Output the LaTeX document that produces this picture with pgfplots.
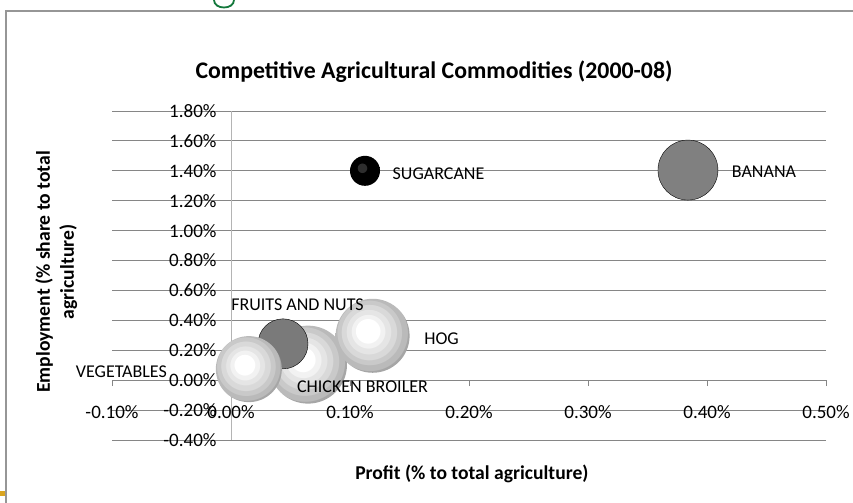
\documentclass[border=0pt]{standalone}
\usepackage{fontspec}
\setmainfont{Carlito}
\usepackage{pgfplots}
\pgfplotsset{compat=1.18}

% banded grey-to-white fill used by the lighter bubbles
\pgfdeclareradialshading{rings}{\pgfpoint{-4bp}{4bp}}{%
  color(0bp)=(white); color(8bp)=(white);
  color(8.01bp)=(black!5); color(11.5bp)=(black!5);
  color(11.51bp)=(black!10); color(15bp)=(black!10);
  color(15.01bp)=(black!15); color(18.5bp)=(black!15);
  color(18.51bp)=(black!21); color(22bp)=(black!21);
  color(22.01bp)=(black!27); color(25.5bp)=(black!27);
  color(25.51bp)=(black!35); color(50bp)=(black!35)}
% black bubble with a faint highlight
\pgfdeclareradialshading{darkball}{\pgfpoint{-6bp}{6bp}}{%
  color(0bp)=(black!82); color(8bp)=(black!82);
  color(8.01bp)=(black); color(50bp)=(black)}

\pgfdeclareplotmark{ringbubble}{%
  \pgfpathcircle{\pgfpointorigin}{\pgfplotmarksize}%
  \pgfshadepath{rings}{0}\pgfusepath{discard}}
\pgfdeclareplotmark{darkbubble}{%
  \pgfpathcircle{\pgfpointorigin}{\pgfplotmarksize}%
  \pgfshadepath{darkball}{0}\pgfusepath{discard}}

\definecolor{gridgray}{RGB}{134,134,134}
\definecolor{axisgray}{RGB}{180,180,180}
\definecolor{framegray}{RGB}{150,150,150}
\definecolor{headgreen}{RGB}{20,120,60}
\definecolor{markgold}{RGB}{218,165,32}

\newcommand{\lbl}{\fontsize{18bp}{20bp}\selectfont}
% bubble label placed relative to its own data point
\pgfplotsset{bubble label/.style n args={3}{
  nodes near coords={#1},
  nodes near coords align={anchor=center},
  every node near coord/.append style={font=\lbl, text=black, xshift=#2, yshift=#3}}}

\begin{document}
\begin{tikzpicture}
\useasboundingbox (0,0) rectangle (853bp,-503bp);
% slide frame around the chart
\draw[framegray, line width=1.5bp] (6bp,-520bp) -- (6bp,-11bp) -- (870bp,-11bp);
\draw[headgreen, line width=1.8bp] (214bp,0bp) .. controls (214bp,-10bp) and (234bp,-10bp) .. (234bp,0bp);
\fill[markgold] (0bp,-491bp) rectangle (5bp,-496bp);

\begin{axis}[
  at={(112bp,-440bp)}, anchor=south west,
  width=714bp, height=329bp, scale only axis,
  xmin=-0.1, xmax=0.5, ymin=-0.4, ymax=1.8,
  axis lines=middle,
  axis line style={-},
  x axis line style={draw=gridgray, line width=1bp},
  y axis line style={draw=axisgray, line width=1bp},
  hide obscured x ticks=false, hide obscured y ticks=false,
  ymajorgrids, grid style={draw=gridgray, line width=1bp},
  xtick={-0.1,0,0.1,0.2,0.3,0.4,0.5},
  xticklabels={-0.10\%,0.00\%,0.10\%,0.20\%,0.30\%,0.40\%,0.50\%},
  ytick={-0.4,-0.2,0,0.2,0.4,0.6,0.8,1.0,1.2,1.4,1.6,1.8},
  yticklabels={-0.40\%,-0.20\%,0.00\%,0.20\%,0.40\%,0.60\%,0.80\%,1.00\%,1.20\%,1.40\%,1.60\%,1.80\%},
  tick label style={font=\fontsize{19bp}{21bp}\selectfont},
  xticklabel style={yshift=-16bp},
  yticklabel style={xshift=-8bp},
  xtick align=outside, major tick length=6bp,
  x tick style={draw=gridgray, line width=1bp},
  y tick style={draw=none},
  clip=false,
  title={Competitive Agricultural Commodities (2000-08)},
  title style={at={(axis description cs:0.451,1.100)}, anchor=center,
    font=\bfseries\fontsize{23.8bp}{26bp}\selectfont},
  xlabel={Profit (\% to total agriculture)},
  xlabel style={at={(axis description cs:0.504,-0.103)}, anchor=center,
    font=\bfseries\fontsize{19.6bp}{22bp}\selectfont},
  ylabel={Employment (\% share to total\\agriculture)},
  ylabel style={at={(axis description cs:-0.078,0.511)}, anchor=center,
    rotate=90, align=center, font=\bfseries\fontsize{19.6bp}{24bp}\selectfont},
]
% profit (%) vs employment (%) per commodity; mark size gives bubble radius
\addplot[only marks, mark=ringbubble, mark size=39bp,
  bubble label={CHICKEN BROILER}{54.5bp}{-22.5bp}]
  coordinates {(0.0647,0.104)};
\addplot[only marks, mark=ringbubble, mark size=37bp,
  bubble label={HOG}{69bp}{-3bp}]
  coordinates {(0.119,0.297)};
\addplot[only marks, mark=*, mark size=25bp, mark options={draw=none, fill=black!52},
  bubble label={FRUITS AND NUTS}{14.5bp}{39.5bp}]
  coordinates {(0.0437,0.243)};
\addplot[only marks, mark=ringbubble, mark size=33bp,
  bubble label={VEGETABLES}{-127.5bp}{-2.5bp}]
  coordinates {(0.015,0.074)};
\addplot[only marks, mark=darkbubble, mark size=15bp,
  bubble label={SUGARCANE}{73.5bp}{-2.5bp}]
  coordinates {(0.1126,1.40)};
\addplot[only marks, mark=*, mark size=30bp, mark options={draw=none, fill=black!50},
  bubble label={BANANA}{76bp}{-2bp}]
  coordinates {(0.384,1.405)};
\end{axis}
\end{tikzpicture}
\end{document}
